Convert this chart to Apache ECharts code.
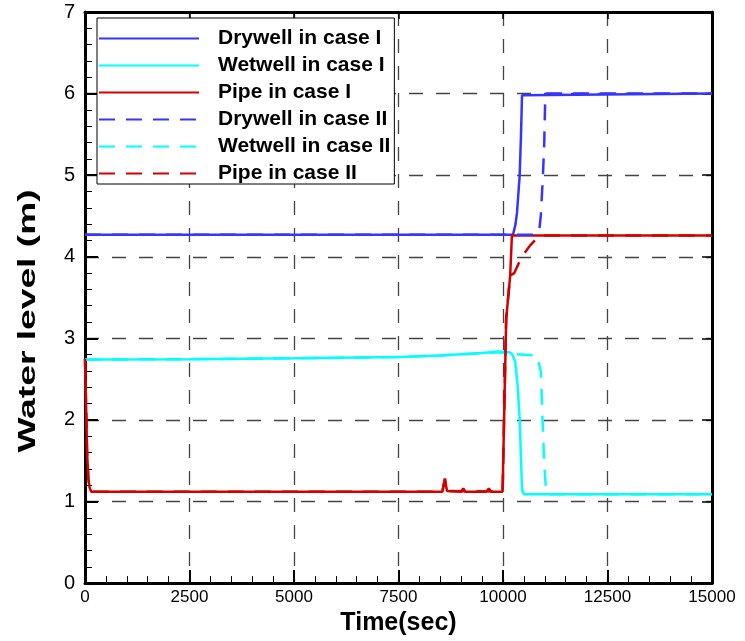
<!DOCTYPE html>
<html>
<head>
<meta charset="utf-8">
<script src="https://cdn.jsdelivr.net/npm/echarts@6/dist/echarts.min.js"></script>
<style>
  html, body { margin: 0; padding: 0; background: #fff; }
  #chart { width: 745px; height: 641px; }
</style>
</head>
<body>
<div id="chart"></div>
<script>
// 数据 (time in sec, water level in m)
const xTicks = [0, 2500, 5000, 7500, 10000, 12500, 15000];
const yTicks = [0, 1, 2, 3, 4, 5, 6, 7];
const seriesNames = [
  "Drywell in case I", "Wetwell in case I", "Pipe in case I",
  "Drywell in case II", "Wetwell in case II", "Pipe in case II"
];

const drywellCase1 = [
  [0, 4.27], [10240, 4.27], [10300, 4.40], [10335, 4.54], [10398, 4.99],
  [10430, 5.48], [10455, 5.98], [10475, 6.0], [15000, 6.0]
];
const wetwellCase1 = [
  [0, 2.74], [2500, 2.745], [5000, 2.755], [7500, 2.77], [8500, 2.79],
  [9500, 2.82], [9900, 2.84], [10150, 2.83], [10215, 2.81], [10294, 2.71],
  [10350, 2.42], [10398, 2.02], [10430, 1.53], [10455, 1.14], [10500, 1.09],
  [15000, 1.09]
];
const pipeCase1 = [
  [0, 2.75], [25, 2.2], [50, 1.6], [80, 1.28], [110, 1.17], [150, 1.12],
  [8550, 1.12], [8610, 1.28], [8660, 1.13], [9000, 1.12], [9050, 1.16],
  [9100, 1.12], [9600, 1.12], [9660, 1.16], [9720, 1.12], [9990, 1.12],
  [10076, 3.24], [10172, 3.77], [10213, 4.26], [15000, 4.26]
];
const drywellCase2 = [
  [0, 4.27], [10810, 4.27], [10870, 4.33], [10907, 4.52], [10955, 4.99],
  [10987, 5.40], [11011, 5.97], [11030, 6.0], [15000, 6.0]
];
const wetwellCase2 = [
  [0, 2.74], [2500, 2.745], [5000, 2.755], [7500, 2.77], [8500, 2.79],
  [9500, 2.82], [9900, 2.83], [10200, 2.81], [10810, 2.79], [10907, 2.59],
  [10945, 2.02], [10987, 1.45], [11035, 1.10], [11100, 1.09], [15000, 1.09]
];
const pipeCase2 = [
  [0, 2.75], [25, 2.2], [50, 1.6], [80, 1.28], [110, 1.17], [150, 1.12],
  [8550, 1.12], [8610, 1.28], [8660, 1.13], [9990, 1.12],
  [10076, 3.24], [10172, 3.77], [10270, 3.80], [10437, 3.99], [10652, 4.14],
  [10850, 4.25], [10950, 4.26], [15000, 4.26]
];

const seriesData = [drywellCase1, wetwellCase1, pipeCase1, drywellCase2, wetwellCase2, pipeCase2];
const colors = ["#3535ff", "#00ffff", "#d40000", "#3535ff", "#00ffff", "#d40000"];
const lineTypes = ["solid", "solid", "solid", [16, 11], [16, 11], [16, 11]];

const chart = echarts.init(document.getElementById("chart"));

const gridLine = { show: true, lineStyle: { color: "#444", width: 1.3, type: [14, 13] } };

const option = {
  animation: false,
  backgroundColor: "#fff",
  grid: { left: 85, right: 33, top: 12, bottom: 56, containLabel: false },
  legend: {
    orient: "vertical",
    left: 97,
    top: 18,
    data: seriesNames,
    itemWidth: 100,
    itemHeight: 14,
    itemGap: 6,
    padding: [10, 4, 0, 1],
    borderColor: "#000",
    borderWidth: 1,
    backgroundColor: "#fff",
    // 图例里只画线，不画圆点
    itemStyle: { color: "transparent", borderColor: "transparent", borderWidth: 0 },
    textStyle: {
      fontFamily: "Liberation Sans, Arial, sans-serif",
      fontWeight: "bold",
      fontSize: 21,
      lineHeight: 20,
      color: "#000",
      padding: [0, 0, 0, 14],
    },
  },
  xAxis: [
    {
      type: "value",
      position: "bottom",
      min: xTicks[0],
      max: xTicks[xTicks.length - 1],
      interval: xTicks[1] - xTicks[0],
      name: "Time(sec)",
      nameLocation: "middle",
      nameGap: 26,
      nameTextStyle: { fontFamily: "Liberation Sans, Arial, sans-serif", fontWeight: "bold", fontSize: 25, color: "#000" },
      axisLine: { show: true, onZero: false, lineStyle: { color: "#000", width: 3 } },
      axisTick: { show: true, inside: true, length: 13, lineStyle: { color: "#000", width: 2 } },
      minorTick: { show: true, splitNumber: 5, length: 7, lineStyle: { color: "#000", width: 1 } },
      axisLabel: {
        fontFamily: "Liberation Sans Narrow, Arial Narrow, Liberation Sans, sans-serif",
        fontSize: 17,
        color: "#000",
        margin: 6,
        formatter: (v) => String(v),
      },
      splitLine: gridLine,
    },
    {
      type: "value",
      position: "top",
      min: xTicks[0],
      max: xTicks[xTicks.length - 1],
      interval: xTicks[1] - xTicks[0],
      axisLine: { show: true, onZero: false, lineStyle: { color: "#000", width: 3 } },
      axisTick: { show: true, inside: true, length: 7, lineStyle: { color: "#000", width: 1.5 } },
      axisLabel: { show: false },
      splitLine: { show: false },
    },
  ],
  yAxis: [
    {
      type: "value",
      position: "left",
      min: yTicks[0],
      max: yTicks[yTicks.length - 1],
      interval: 1,
      axisLine: { show: true, onZero: false, lineStyle: { color: "#000", width: 3 } },
      axisTick: { show: true, inside: true, length: 13, lineStyle: { color: "#000", width: 2 } },
      minorTick: { show: true, splitNumber: 5, length: 7, lineStyle: { color: "#000", width: 1 } },
      axisLabel: { fontFamily: "Liberation Sans, Arial, sans-serif", fontSize: 20, color: "#000", margin: 10 },
      splitLine: gridLine,
    },
    {
      type: "value",
      position: "right",
      min: yTicks[0],
      max: yTicks[yTicks.length - 1],
      interval: 1,
      axisLine: { show: true, onZero: false, lineStyle: { color: "#000", width: 3 } },
      axisTick: { show: true, inside: true, length: 10, lineStyle: { color: "#000", width: 1.5 } },
      axisLabel: { show: false },
      splitLine: { show: false },
    },
  ],
  graphic: [
    {
      type: "text",
      x: 28,
      y: 321,
      rotation: Math.PI / 2,
      scaleX: 1.55,
      style: {
        text: "Water level (m)",
        font: "bold 24px 'Liberation Sans', Arial, sans-serif",
        fill: "#000",
        align: "center",
        verticalAlign: "middle",
      },
    },
  ],
  series: seriesNames.map((name, i) => ({
    name: name,
    type: "line",
    xAxisIndex: 0,
    yAxisIndex: 0,
    data: seriesData[i],
    symbol: "none",
    showSymbol: false,
    color: colors[i],
    lineStyle: { color: colors[i], width: 2.5, type: lineTypes[i] },
    z: 3 + i,
  })),
};

chart.setOption(option);
</script>
</body>
</html>
